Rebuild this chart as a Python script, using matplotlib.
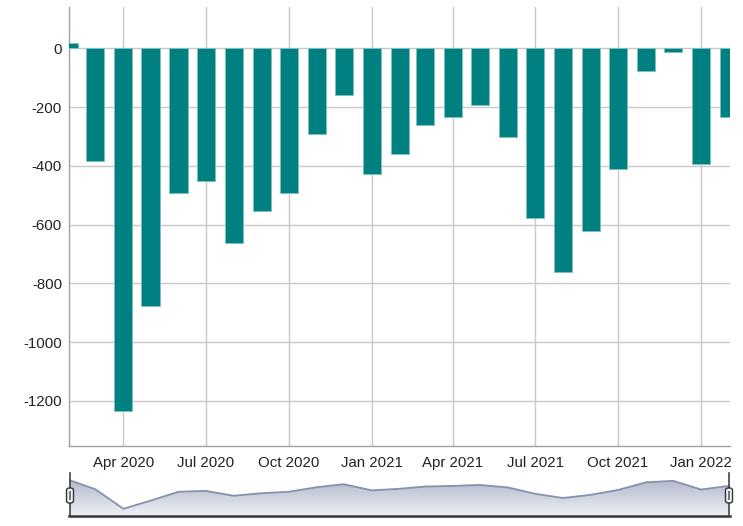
import matplotlib
matplotlib.use("Agg")
import matplotlib.pyplot as plt
import matplotlib.dates as mdates
from matplotlib.patches import FancyBboxPatch, Rectangle
import numpy as np
import datetime as dt

# ---- data ----
months = ["2020-02", "2020-03", "2020-04", "2020-05", "2020-06", "2020-07", "2020-08",
          "2020-09", "2020-10", "2020-11", "2020-12", "2021-01", "2021-02", "2021-03",
          "2021-04", "2021-05", "2021-06", "2021-07", "2021-08", "2021-09", "2021-10",
          "2021-11", "2021-12", "2022-01", "2022-02"]
values = [20, -384, -1235, -877, -491, -450, -664, -554, -491, -292, -158,
          -429, -359, -261, -235, -192, -302, -579, -763, -622, -411, -77, -13,
          -392, -233]
tick_dates = ["2020-04", "2020-07", "2020-10", "2021-01", "2021-04", "2021-07",
              "2021-10", "2022-01"]
y_ticks = [0, -200, -400, -600, -800, -1000, -1200]

dates = [dt.datetime.strptime(m, "%Y-%m") for m in months]
tdates = [dt.datetime.strptime(m, "%Y-%m") for m in tick_dates]
x = mdates.date2num(dates)

W, H = 743, 526
fig = plt.figure(figsize=(W / 100, H / 100), dpi=100)
plt.rcParams['font.family'] = ['Liberation Sans', 'DejaVu Sans']

def fx(px):
    return px / W

def fy(py):
    return 1 - py / H

xlim = (mdates.date2num(dt.datetime(2020, 2, 1)) - 0.3, mdates.date2num(dt.datetime(2022, 2, 2)))

# ---- main axes ----
ax = fig.add_axes([fx(69), fy(446), fx(730) - fx(69), fy(7) - fy(446)])
ax.bar(x, values, width=20, color="#008080", edgecolor="#7fbfbf", linewidth=0.7, zorder=3)
ax.set_xlim(*xlim)
ax.set_ylim(-1354, 141)
ax.set_yticks(y_ticks)
ax.set_yticklabels([str(v) for v in y_ticks])
ax.set_xticks(mdates.date2num(tdates))
ax.set_xticklabels([d.strftime("%b %Y") for d in tdates])
ax.grid(True, color="#c8c8c8", linewidth=1, zorder=0)
ax.set_axisbelow(True)
for s in ["top", "right"]:
    ax.spines[s].set_visible(False)
for s in ["left", "bottom"]:
    ax.spines[s].set_color("#a0a0a0")
    ax.spines[s].set_linewidth(1)
ax.tick_params(axis="both", length=0, labelsize=10.8, labelcolor="#222222")
ax.tick_params(axis="y", pad=5)
ax.tick_params(axis="x", pad=7)

# ---- navigator ----
nav = fig.add_axes([fx(69), fy(516), fx(730) - fx(69), fy(473) - fy(516)])
nav.set_xlim(*xlim)
ylo, yhi = -1550, 330
nav.set_ylim(ylo, yhi)
poly = nav.fill_between(x, values, ylo, color="none", linewidth=0)
grad = np.linspace(0, 1, 256).reshape(-1, 1)
from matplotlib.colors import LinearSegmentedColormap
cmap = LinearSegmentedColormap.from_list("nav", ["#f0f1f5", "#a7afc4"])
im = nav.imshow(grad, extent=[xlim[0], xlim[1], yhi, ylo], aspect="auto", cmap=cmap,
                origin="upper", zorder=1)
im.set_clip_path(poly.get_paths()[0], transform=nav.transData)
nav.plot(x, values, color="#8591ad", linewidth=1.3, zorder=2)
nav.set_xticks([])
nav.set_yticks([])
for s in ["top", "right", "left", "bottom"]:
    nav.spines[s].set_visible(False)

# navigator outline
fig.add_artist(plt.Line2D([fx(69), fx(730)], [fy(516), fy(516)], color="#333333", linewidth=1.8))
for px in (70, 729):
    fig.add_artist(plt.Line2D([fx(px), fx(px)], [fy(473), fy(516)], color="#444444", linewidth=1.2))
    hb = FancyBboxPatch((fx(px - 3.5), fy(503)), fx(7), fy(488) - fy(503),
                        boxstyle="round,pad=0,rounding_size=0.004",
                        transform=fig.transFigure, facecolor="#f2f2f2",
                        edgecolor="#333333", linewidth=1.0, zorder=5)
    fig.add_artist(hb)
    fig.add_artist(Rectangle((fx(px - 1.2), fy(500)), fx(2.4), fy(491) - fy(500),
                             transform=fig.transFigure, facecolor="#777777",
                             edgecolor="none", zorder=6))

fig.savefig("out.png", dpi=100)
